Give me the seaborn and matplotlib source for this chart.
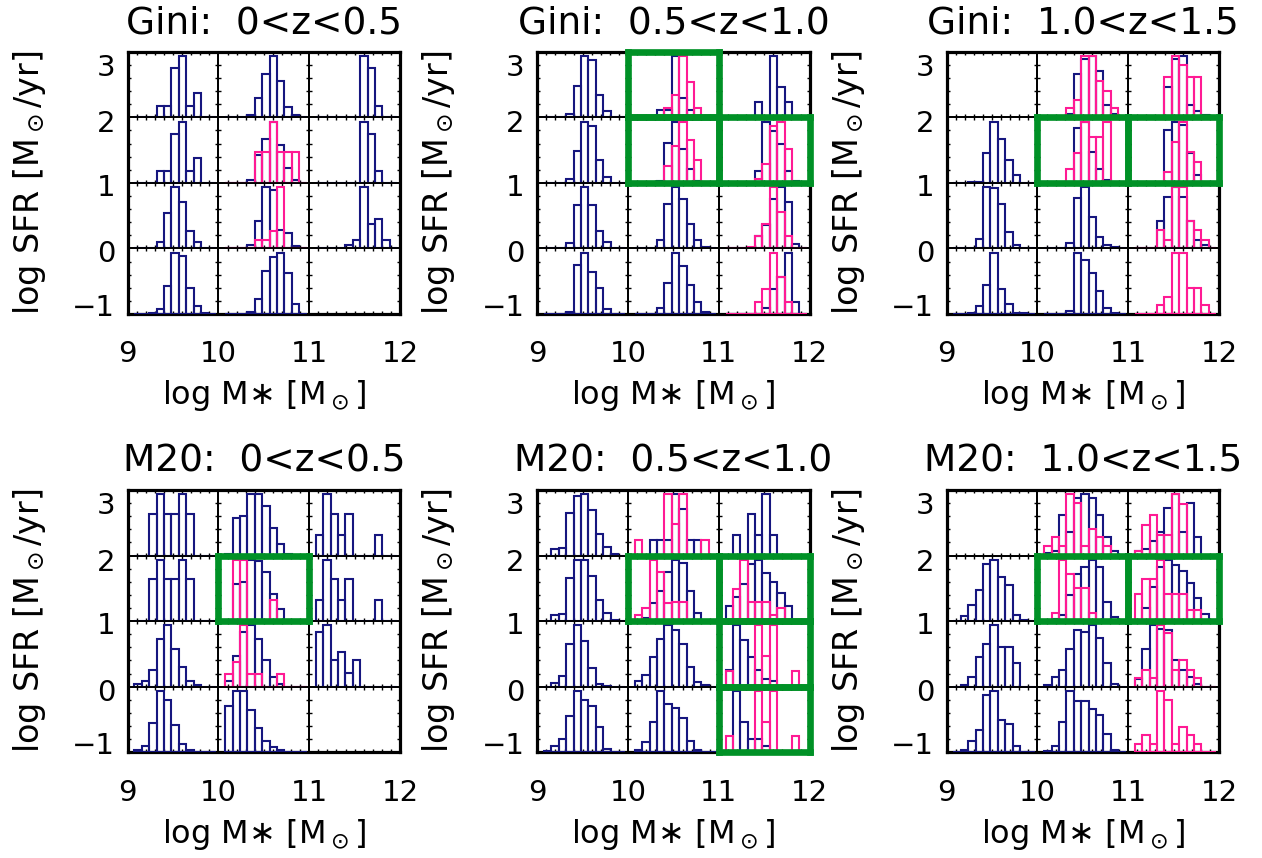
import numpy as np
import matplotlib
matplotlib.use("Agg")
import matplotlib.pyplot as plt
import matplotlib.transforms as mtransforms
import seaborn as sns

sns.set_style("white")
plt.rcParams["font.family"] = ["DejaVu Sans"]
plt.rcParams["mathtext.fontset"] = "dejavusans"
plt.rcParams["axes.unicode_minus"] = True
for key in ["text.color", "axes.labelcolor", "xtick.color", "ytick.color", "axes.titlecolor"]:
    plt.rcParams[key] = "black"

# ---------------- data ----------------
MASS_TICKS = [9, 10, 11, 12]
SFR_TICKS = [-1, 0, 1, 2, 3]
N_BINS = 11
BIN_OFFSET = 0.0735   # first histogram edge inside a 1-dex cell
BIN_WIDTH = 0.0815

PANEL_TITLES = ["Gini:  0<z<0.5", "Gini:  0.5<z<1.0", "Gini:  1.0<z<1.5",
                "M20:  0<z<0.5", "M20:  0.5<z<1.0", "M20:  1.0<z<1.5"]

# each array: 4 SFR rows (top = 2..3) x 3 mass columns; each cell = 11 normalised bin heights or None
GINI_Z0_NAVY = [
    [[0,0,0,0.18,0.18,0.8,1.0,0.19,0.39,0,0], [0,0,0,0.04,0.31,0.7,1.0,0.6,0.16,0.04,0], [0,0,0,0,0,0,1.0,0.8,0.18,0,0]],
    [[0,0,0,0.19,0.19,0.8,1.0,0.2,0.4,0,0], [0,0,0,0.05,0.45,0.71,1.0,0.62,0.24,0.05,0], [0,0,0,0,0,0,1.0,0.8,0.19,0,0]],
    [[0,0,0,0.1,0.58,1.0,0.76,0.29,0.1,0,0], [0,0,0,0.06,0.45,1.0,0.95,0.3,0.25,0.04,0], [0,0,0,0,0.06,0.14,1.0,0.4,0.48,0.14,0]],
    [[0,0,0.02,0.08,0.46,1.0,0.95,0.43,0.13,0.02,0], [0,0,0,0.04,0.25,0.7,0.93,1.0,0.67,0.17,0], None],
]
GINI_Z0_PINK = [
    [None, None, None],
    [None, [0,0,0,0,0.5,0.5,1.0,0.5,0.5,0.5,0], None],
    [None, [0,0,0,0,0.14,0.14,0.29,1.0,0,0,0], None],
    [None, None, None],
]
GINI_Z05_NAVY = [
    [[0,0,0,0.06,0.51,1.0,0.93,0.36,0.1,0,0], [0,0,0,0.12,0.12,1.0,0.31,0.12,0,0,0], [0,0,0,0,0.25,0,1.0,0.5,0.25,0,0]],
    [[0,0,0,0.06,0.52,1.0,0.92,0.37,0.1,0,0], [0,0,0,0.03,0.65,1.0,0.56,0.22,0.03,0,0], [0,0,0,0,0.2,1.0,0.85,0.64,0.2,0.03,0]],
    [[0,0,0,0.09,0.71,1.0,0.71,0.29,0.1,0,0], [0,0,0,0.13,0.72,1.0,0.8,0.4,0.13,0.03,0], [0,0,0,0,0.2,0.38,0.8,1.0,0.76,0.08,0]],
    [[0,0,0,0.03,0.8,1.0,0.69,0.43,0.08,0,0], [0,0,0,0.09,0.51,1.0,0.78,0.48,0.2,0.04,0], [0,0,0,0,0,0.1,0.4,0.6,1.0,0.2,0]],
]
GINI_Z05_PINK = [
    [None, [0,0,0,0,0.15,0.36,1.0,0.58,0.15,0,0], None],
    [None, [0,0,0,0,0.27,0.6,1.0,0.7,0.37,0,0], [0,0,0,0,0.06,0.31,0.93,1.0,0.55,0,0]],
    [None, None, [0,0,0,0.02,0.2,0.4,1.0,0.6,0.2,0,0]],
    [None, None, [0,0,0,0,0.2,0.4,1.0,0.6,0.2,0,0]],
]
GINI_Z10_NAVY = [
    [None, [0,0,0,0.05,0.7,0.95,1.0,0.76,0.2,0.05,0], [0,0,0,0,0.5,0.95,1.0,0.2,0.1,0.04,0]],
    [[0,0,0.01,0.02,0.49,1.0,0.71,0.37,0.13,0,0], [0,0,0,0.02,0.89,1.0,0.5,0.22,0.05,0,0], [0,0,0,0,0.86,1.0,0.95,0.49,0.13,0,0]],
    [[0,0,0,0.16,1.0,0.98,0.72,0.26,0.06,0,0], [0,0,0,0.09,0.83,1.0,0.52,0.19,0.06,0.02,0], [0,0,0,0.45,0.84,1.0,0.84,0.45,0.14,0.06,0]],
    [[0,0,0.02,0.13,0.47,1.0,0.4,0.16,0.02,0.02,0], [0,0,0,0.05,1.0,0.88,0.67,0.38,0.09,0.02,0], None],
]
GINI_Z10_PINK = [
    [None, [0,0,0,0.15,0.29,1.0,1.0,0.6,0.43,0.15,0], [0,0,0,0,0.66,1.0,0.85,0.66,0.66,0,0]],
    [None, [0,0,0,0.22,0.49,1.0,0.75,0.75,1.0,0,0], [0,0,0,0,0.17,0.66,1.0,0.5,0.34,0,0]],
    [None, None, [0,0,0,0.3,0.14,1.0,1.0,0.45,0.3,0.14,0]],
    [None, None, [0,0,0,0.15,0.28,1.0,1.0,0.43,0.43,0.15,0]],
]
M20_Z0_NAVY = [
    [[0,0,0.68,1.0,0.68,0.68,1.0,0.68,0,0,0], [0.03,0.61,0.65,1.0,1.0,0.81,0.45,0.19,0.03,0,0], [0.34,1.0,0.68,0.34,0.68,0,0,0,0.34,0,0]],
    [[0,0,0.68,1.0,0.68,0.68,1.0,0.68,0,0,0], [0.02,0.6,0.64,1.0,0.98,0.8,0.44,0.2,0,0,0], [0.34,1.0,0.68,0.34,0.68,0,0,0,0.34,0,0]],
    [[0.04,0.1,0.27,0.78,1.0,0.61,0.32,0.1,0.02,0,0], [0.1,0.5,0.9,1.0,0.78,0.43,0.16,0.05,0,0,0], [0.9,1.0,0.44,0.56,0.22,0.44,0,0,0,0,0]],
    [[0.03,0.11,0.48,1.0,0.85,0.44,0.14,0.04,0,0,0], [0.75,1.0,1.0,0.69,0.39,0.19,0.08,0.03,0,0,0], None],
]
M20_Z0_PINK = [
    [None, None, None],
    [None, [0,1.0,1.0,0,0,0,0.34,0,0,0,0], None],
    [None, [0.2,0.41,1.0,0.2,0.2,0,0,0.2,0,0,0], None],
    [None, None, None],
]
M20_Z05_NAVY = [
    [[0,0.1,0.12,0.7,0.98,1.0,0.75,0.35,0.14,0.02,0], [0,0,0.26,0.26,0.26,1.0,0.76,0.26,0.26,0,0], [0,0.34,0,0.68,0.34,1.0,0.34,0,0,0,0]],
    [[0,0.1,0.11,0.7,0.99,1.0,0.74,0.35,0.13,0.02,0], [0,0.05,0.29,0.5,0.8,1.0,0.95,0.5,0.14,0,0], [0.24,0.4,0.6,0.94,1.0,0.78,0.64,0.46,0.24,0,0]],
    [[0,0.06,0.17,0.7,1.0,0.74,0.3,0.05,0.01,0,0], [0.1,0.19,0.49,0.78,1.0,0.92,0.7,0.32,0.08,0.02,0], [0.28,1.0,0.76,0.49,0.28,0.13,0.1,0,0,0,0]],
    [[0.02,0.1,0.22,0.6,1.0,0.85,0.75,0.42,0.06,0,0], [0.04,0.17,0.49,1.0,0.78,0.72,0.56,0.19,0.03,0,0], [0,1.0,0.5,0.22,0.22,0.1,0,0,0,0,0]],
]
M20_Z05_PINK = [
    [None, [0.26,0,0,0,1.0,0.51,1.0,0,0,0.26,0], None],
    [None, [0.1,0.21,1.0,0.8,0.3,0.31,0.31,0,0,0,0], [0,0.52,1.0,0.32,0.32,0.32,0.1,0.21,0,0,0]],
    [None, None, [0.26,0,0,0,1.0,0.5,1.0,0,0,0.26,0]],
    [None, None, [0.26,0,0,0,1.0,0.5,1.0,0,0,0.26,0]],
]
M20_Z10_NAVY = [
    [None, [0.04,0.08,0.66,0.38,0.94,1.0,0.94,0.66,0.3,0.08,0], [0.08,0.1,0.24,0.39,0.78,1.0,0.39,0.86,0.31,0,0]],
    [[0.01,0.09,0.26,0.51,0.93,1.0,0.72,0.59,0.1,0.02,0], [0,0.03,0.1,0.42,0.77,0.89,1.0,0.89,0.32,0.06,0], [0.01,0.22,0.56,0.89,1.0,0.92,0.82,0.62,0.38,0.11,0]],
    [[0,0.02,0.16,0.49,0.7,1.0,0.65,0.65,0.39,0,0], [0.02,0.16,0.28,0.61,0.93,0.89,1.0,0.8,0.38,0.04,0], [0.13,0.62,1.0,0.95,0.93,0.43,0.28,0.16,0.04,0,0]],
    [[0,0.04,0.19,0.36,0.94,1.0,0.53,0.46,0.11,0,0], [0.02,0.11,0.5,1.0,0.84,0.84,0.7,0.61,0.3,0.03,0], None],
]
M20_Z10_PINK = [
    [None, [0.15,0.3,0.15,1.0,0.86,0.15,0.44,0.3,0.15,0,0], [0.08,0.5,0.67,0.34,0.34,1.0,0.84,0,0,0,0]],
    [None, [0,0.14,1.0,0.77,0.54,0.54,0.14,0,0,0,0], [0.44,0.68,0.68,1.0,0.44,0.44,0.44,0.18,0.18,0,0]],
    [None, None, [0.15,0.28,0.15,1.0,0.87,0.28,0.43,0.28,0.15,0,0]],
    [None, None, [0.14,0.29,0.14,1.0,0.85,0.14,0.42,0.29,0.14,0,0]],
]

# highlighted cells (row from top, column)
GREEN_CELLS = [
    [],
    [(0, 1), (1, 1), (1, 2)],
    [(1, 1), (1, 2)],
    [(1, 1)],
    [(1, 1), (1, 2), (2, 2), (3, 2)],
    [(1, 1), (1, 2)],
]

NAVY_DATA = [GINI_Z0_NAVY, GINI_Z05_NAVY, GINI_Z10_NAVY, M20_Z0_NAVY, M20_Z05_NAVY, M20_Z10_NAVY]
PINK_DATA = [GINI_Z0_PINK, GINI_Z05_PINK, GINI_Z10_PINK, M20_Z0_PINK, M20_Z05_PINK, M20_Z10_PINK]

# ---------------- style ----------------
NAVY = "#16167f"
PINK = "#ff1a94"
GREEN = "#009126"
W, H = 1262, 858
PANEL_LEFT_PX = [127.7, 537.3, 946.7]
PANEL_TOP_PX = [51.7, 490.0]
PANEL_W_PX, PANEL_H_PX = 272.3, 262.3
YLAB_SHIFT_PX = [9, -3, -2, -4, -13]   # label nudges for -1,0,1,2,3

fig = plt.figure(figsize=(W / 100, H / 100), dpi=100)


def draw_hist(cell, m0, vals, color):
    edges = m0 + BIN_OFFSET + BIN_WIDTH * np.arange(N_BINS + 1)
    centers = edges[:-1] + BIN_WIDTH / 2
    sns.histplot(x=list(centers), weights=list(vals), bins=list(edges), element="bars",
                 fill=False, color=color, linewidth=1.5, ax=cell, zorder=3)


for p in range(6):
    prow, pcol = divmod(p, 3)
    left = PANEL_LEFT_PX[pcol] / W
    bottom = 1 - (PANEL_TOP_PX[prow] + PANEL_H_PX) / H
    ax = fig.add_axes([left, bottom, PANEL_W_PX / W, PANEL_H_PX / H])
    ax.set_xlim(MASS_TICKS[0], MASS_TICKS[-1])
    ax.set_ylim(SFR_TICKS[0], SFR_TICKS[-1])
    ax.set_xticks(MASS_TICKS)
    ax.set_yticks(SFR_TICKS)
    ax.tick_params(axis="both", length=0, labelsize=21, labelcolor="black")
    ax.tick_params(axis="x", pad=19)
    ax.tick_params(axis="y", pad=9)
    for sp in ax.spines.values():
        sp.set_color("black")
        sp.set_linewidth(2.3)
    ax.set_title(PANEL_TITLES[p], fontsize=27, pad=13, color="black")
    ax.set_xlabel("log M\u2217 [M$_\\odot$]", fontsize=23, color="black")
    ax.set_ylabel("log SFR [M$_\\odot$/yr]", fontsize=24, color="black")
    ax.xaxis.set_label_coords(0.5, -0.245)
    ax.yaxis.set_label_coords(-0.294, 0.5)
    for lab, dy in zip(ax.get_yticklabels(), YLAB_SHIFT_PX):
        lab.set_transform(lab.get_transform() +
                          mtransforms.ScaledTranslation(0, dy / 100, fig.dpi_scale_trans))

    for r in range(4):
        for c in range(3):
            m0 = MASS_TICKS[c]
            cell = ax.inset_axes([c / 3, (3 - r) / 4, 1 / 3, 1 / 4])
            cell.set_facecolor("none")
            nv = NAVY_DATA[p][r][c]
            pk = PINK_DATA[p][r][c]
            if nv is not None:
                draw_hist(cell, m0, nv, NAVY)
            if pk is not None:
                draw_hist(cell, m0, pk, PINK)
            cell.set_xlim(m0, m0 + 1)
            cell.set_ylim(0, 1.07)
            cell.set_xlabel("")
            cell.set_ylabel("")
            cell.set_xticks(np.linspace(m0, m0 + 1, 11)[1:-1])
            cell.set_yticks(np.linspace(0, 1.07, 6)[1:-1])
            cell.tick_params(direction="in", length=2.5, width=1, color="black",
                             top=True, right=True, bottom=True, left=True,
                             labelbottom=False, labelleft=False)
            if (r, c) in GREEN_CELLS[p]:
                cell.set_zorder(6)
                for sp in cell.spines.values():
                    sp.set_color(GREEN)
                    sp.set_linewidth(4.8)
                    sp.set_zorder(10)
            else:
                for sp in cell.spines.values():
                    sp.set_color("black")
                    sp.set_linewidth(1.3)

fig.savefig("out.png", dpi=100)
